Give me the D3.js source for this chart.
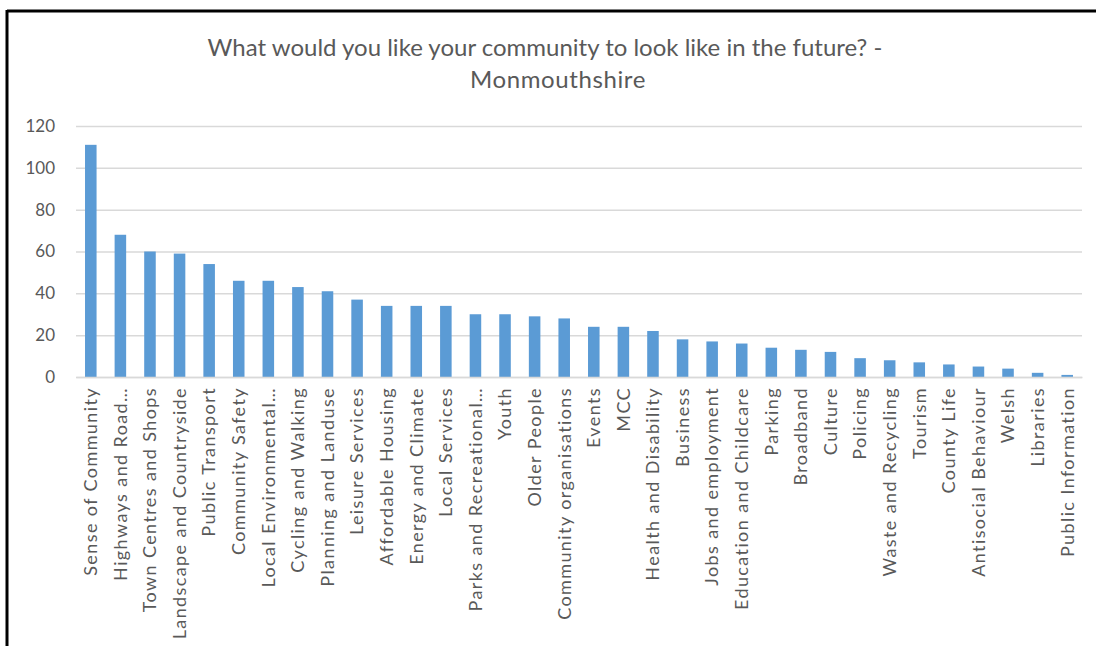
<!DOCTYPE html>
<html><head><meta charset="utf-8">
<script src="https://cdn.jsdelivr.net/npm/d3@7"></script>
<style>html,body{margin:0;padding:0;background:#fff;}svg{display:block;}</style>
</head><body>
<svg id="chart" width="1096" height="646"></svg>
<script>
const titleLines = ["What would you like your community to look like in the future? -", "Monmouthshire"];
const categories = ["Sense of Community","Highways and Road\u2026","Town Centres and Shops","Landscape and Countryside","Public Transport","Community Safety","Local Environmental\u2026","Cycling and Walking","Planning and Landuse","Leisure Services","Affordable Housing","Energy and Climate","Local Services","Parks and Recreational\u2026","Youth","Older People","Community organisations","Events","MCC","Health and Disability","Business","Jobs and employment","Education and Childcare","Parking","Broadband","Culture","Policing","Waste and Recycling","Tourism","County Life","Antisocial Behaviour","Welsh","Libraries","Public Information"];
const values = [111,68,60,59,54,46,46,43,41,37,34,34,34,30,30,29,28,24,24,22,18,17,16,14,13,12,9,8,7,6,5,4,2,1];
const yTicks = [0,20,40,60,80,100,120];

(function(){
const svg = d3.select("#chart");
const font = "Lato, 'Open Sans', sans-serif";
const textColor = "#595959";

// frame
svg.append("line").attr("x1",7).attr("x2",1096).attr("y1",11).attr("y2",11).attr("stroke","#000").attr("stroke-width",3);
svg.append("line").attr("x1",7).attr("x2",7).attr("y1",10).attr("y2",646).attr("stroke","#000").attr("stroke-width",3);

const pl = 76, pr = 1082, pt = 126, pb = 377;
const x = d3.scaleBand().domain(categories).range([pl, pr]).paddingInner(0.61).paddingOuter(0.305);
const y = d3.scaleLinear().domain([0,120]).range([pb, pt]);

// gridlines
const yAxis = d3.axisLeft(y).tickValues(yTicks).tickSize(-(pr-pl)).tickPadding(12);
const gy = svg.append("g").attr("transform",`translate(${pl},0)`).call(yAxis);
gy.select(".domain").remove();
gy.selectAll(".tick line").attr("stroke","#d9d9d9").attr("stroke-width",1.5);
gy.selectAll(".tick text").attr("fill",textColor).style("font-family",font).style("font-size","17px").attr("x",-21);

// bars
svg.append("g").selectAll("rect").data(values).join("rect")
  .attr("x",(d,i)=>x(categories[i]))
  .attr("width",x.bandwidth())
  .attr("y",d=>y(d))
  .attr("height",d=>y(0)-y(d))
  .attr("fill","#5b9bd5");

// x axis
const xAxis = d3.axisBottom(x).tickSize(0).tickPadding(0);
const gx = svg.append("g").attr("transform",`translate(0,${pb})`).call(xAxis);
gx.select(".domain").attr("stroke","#d9d9d9").attr("stroke-width",1.5);
gx.selectAll(".tick text")
  .attr("fill",textColor).style("font-family",font).style("font-size","18px")
  .style("letter-spacing","1.4px")
  .attr("transform","rotate(-90)").attr("text-anchor","end")
  .attr("x",-10).attr("y",0).attr("dy","0.35em").attr("dx",0);

// title
svg.append("g").selectAll("text").data(titleLines).join("text")
  .attr("x",(d,i)=> i===0 ? 545 : 558).attr("y",(d,i)=>56+i*32)
  .attr("text-anchor","middle").attr("fill",textColor)
  .style("font-family",font).style("font-size","24px")
  .style("letter-spacing",(d,i)=> i===0 ? "0px" : "0.6px")
  .text(d=>d);
})();
</script>
</body></html>
